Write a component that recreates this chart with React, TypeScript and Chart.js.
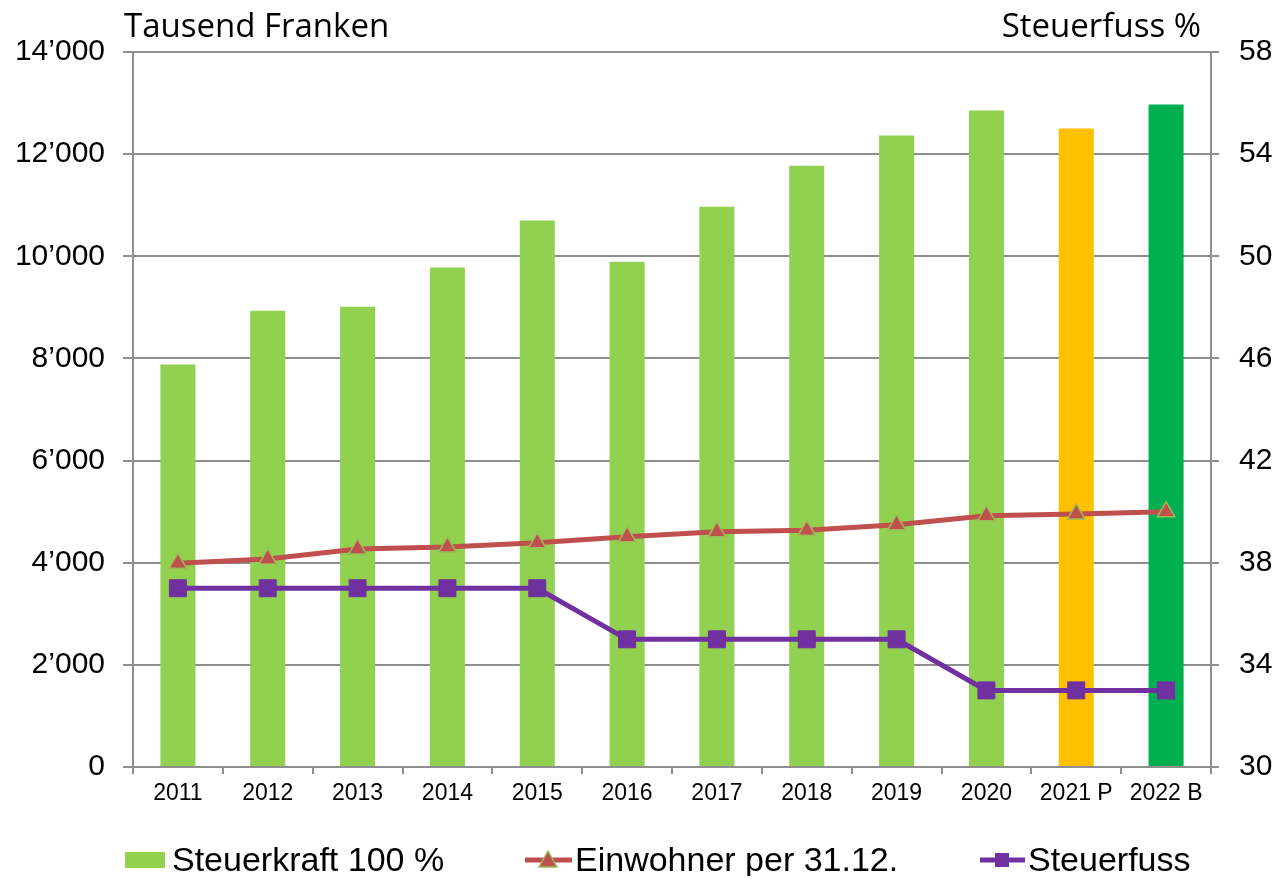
import React, { useEffect, useRef } from "react";
import { Chart, registerables } from "chart.js";

Chart.register(...registerables);

const categories = ["2011", "2012", "2013", "2014", "2015", "2016", "2017", "2018", "2019", "2020", "2021 P", "2022 B"];
const steuerkraft = [7880, 8935, 9010, 9780, 10700, 9895, 10970, 11775, 12365, 12855, 12500, 12970];
const einwohner = [3990, 4075, 4270, 4310, 4390, 4510, 4605, 4635, 4745, 4920, 4955, 5000];
const steuerfuss = [37, 37, 37, 37, 37, 35, 35, 35, 35, 33, 33, 33];
const barColors = ["#92d050", "#92d050", "#92d050", "#92d050", "#92d050", "#92d050", "#92d050", "#92d050", "#92d050", "#92d050", "#ffc000", "#00b050"];
const leftTitle = "Tausend Franken";
const rightTitle = "Steuerfuss %";
const legendLabels = ["Steuerkraft 100 %", "Einwohner per 31.12.", "Steuerfuss"];

const GRID = "#8e8e8e";
const ARIAL = '"Liberation Sans", Arial, sans-serif';

function fmtThousands(v: number): string {
  const s = String(Math.round(v));
  return s.replace(/\B(?=(\d{3})+(?!\d))/g, "\u2019");
}

const decorPlugin = {
  id: "decor",
  afterDraw(chart: any) {
    const ctx = chart.ctx as CanvasRenderingContext2D;
    ctx.save();
    // Titles
    ctx.fillStyle = "#000";
    ctx.font = '33px "Open Sans", "Noto Sans", sans-serif';
    ctx.textBaseline = "alphabetic";
    ctx.textAlign = "left";
    ctx.fillText(leftTitle, 116, 29);
    ctx.textAlign = "right";
    ctx.fillText(rightTitle, 1193, 29);

    // Legend
    const ly = 852;
    const tb = 863;
    ctx.font = "34px " + ARIAL;
    ctx.textAlign = "left";
    // item 1: box
    ctx.fillStyle = "#92d050";
    ctx.fillRect(117, ly - 8, 40, 16);
    ctx.fillStyle = "#000";
    ctx.fillText(legendLabels[0], 164, tb);
    // item 2: line + triangle
    ctx.strokeStyle = "#c0504d";
    ctx.lineWidth = 5;
    ctx.beginPath();
    ctx.moveTo(517, ly);
    ctx.lineTo(564, ly);
    ctx.stroke();
    ctx.fillStyle = "#c0504d";
    ctx.strokeStyle = "#9bbb59";
    ctx.lineWidth = 1.5;
    ctx.beginPath();
    ctx.moveTo(540, ly - 9);
    ctx.lineTo(549, ly + 7);
    ctx.lineTo(531, ly + 7);
    ctx.closePath();
    ctx.fill();
    ctx.stroke();
    ctx.fillStyle = "#000";
    ctx.fillText(legendLabels[1], 567, tb);
    // item 3: line + square
    ctx.strokeStyle = "#7030a0";
    ctx.lineWidth = 5;
    ctx.beginPath();
    ctx.moveTo(972, ly);
    ctx.lineTo(1017, ly);
    ctx.stroke();
    ctx.fillStyle = "#7030a0";
    ctx.fillRect(987, ly - 7, 14, 14);
    ctx.fillStyle = "#000";
    ctx.fillText(legendLabels[2], 1020, tb);
    ctx.restore();
  },
};

export default function App() {
  const ref = useRef<HTMLCanvasElement | null>(null);

  useEffect(() => {
    if (!ref.current) return;
    const chart = new Chart(ref.current, {
      type: "bar",
      data: {
        labels: categories,
        datasets: [
          {
            type: "line",
            label: legendLabels[1],
            data: einwohner,
            yAxisID: "y",
            borderColor: "#c0504d",
            borderWidth: 5,
            backgroundColor: "#c0504d",
            pointStyle: "triangle",
            pointRadius: 10,
            pointBackgroundColor: "#c0504d",
            pointBorderColor: "#9bbb59",
            pointBorderWidth: 1.5,
            tension: 0,
            order: 1,
          } as any,
          {
            type: "line",
            label: legendLabels[2],
            data: steuerfuss,
            yAxisID: "y1",
            borderColor: "#7030a0",
            borderWidth: 5,
            backgroundColor: "#7030a0",
            pointStyle: "rect",
            pointRadius: 12,
            pointBackgroundColor: "#7030a0",
            pointBorderColor: "#7030a0",
            pointBorderWidth: 1,
            tension: 0,
            order: 2,
          } as any,
          {
            type: "bar",
            label: legendLabels[0],
            data: steuerkraft,
            yAxisID: "y",
            backgroundColor: barColors,
            borderWidth: 0,
            barPercentage: 0.39,
            categoryPercentage: 1,
            order: 3,
          } as any,
        ],
      },
      options: {
        animation: false,
        responsive: true,
        maintainAspectRatio: false,
        layout: { padding: { top: 44, bottom: 60, left: 0, right: 0 } },
        plugins: {
          legend: { display: false },
          tooltip: { enabled: false },
          title: { display: false },
        },
        scales: {
          x: {
            grid: { offset: true, drawOnChartArea: false, tickLength: 7, color: GRID, lineWidth: 2 },
            border: { color: GRID, width: 2 },
            ticks: {
              color: "#000",
              font: { family: ARIAL, size: 23 },
              padding: 6,
              maxRotation: 0,
              autoSkip: false,
            },
            afterFit: (s: any) => {
              s.height = 49;
            },
          },
          y: {
            position: "left",
            min: 0,
            max: 14000,
            ticks: {
              stepSize: 2000,
              color: "#000",
              padding: 18,
              font: { family: ARIAL, size: 30 },
              callback: (v: any) => fmtThousands(Number(v)),
            },
            grid: { color: GRID, lineWidth: 2, tickLength: 10 },
            border: { color: GRID, width: 2 },
            afterFit: (s: any) => {
              s.width = 125;
            },
          },
          y1: {
            position: "right",
            min: 30,
            max: 58,
            ticks: {
              stepSize: 4,
              color: "#000",
              padding: 20,
              font: { family: ARIAL, size: 30 },
            },
            grid: { drawOnChartArea: false, color: GRID, lineWidth: 2, tickLength: 8 },
            border: { color: GRID, width: 2 },
            afterFit: (s: any) => {
              s.width = 66;
            },
          },
        },
      } as any,
      plugins: [decorPlugin],
    });
    return () => chart.destroy();
  }, []);

  return (
    <div style={{ position: "relative", width: 1269, height: 868 }}>
      <canvas ref={ref} />
    </div>
  );
}
